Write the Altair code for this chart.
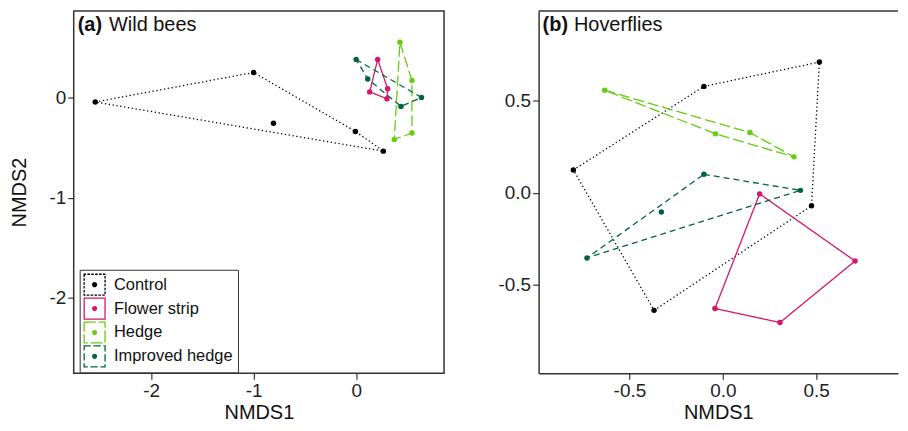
import altair as alt
import pandas as pd

FONT = "Liberation Sans"

# ---------------- data ----------------
groups = ["Control", "Flower strip", "Hedge", "Improved hedge"]
group_colors = ["#000000", "#D6156C", "#66CC11", "#00663A"]

# (a) Wild bees  (hull = order around the convex hull, -1 = interior point)
bees_group = ["Control"] * 5 + ["Flower strip"] * 4 + ["Hedge"] * 4 + ["Improved hedge"] * 4
bees_x = [-2.544, -1.000, -0.806, -0.007, 0.265,
          0.210, 0.307, 0.300, 0.132,
          0.427, 0.544, 0.544, 0.372,
          0.000, 0.637, 0.437, 0.113]
bees_y = [-0.043, 0.252, -0.256, -0.337, -0.534,
          0.382, 0.090, -0.010, 0.058,
          0.553, 0.171, -0.353, -0.417,
          0.382, 0.003, -0.087, 0.187]
bees_hull = [0, 1, -1, 2, 3,
             0, 1, 2, 3,
             0, 1, 2, 3,
             0, 1, 2, 3]

# (b) Hoverflies
hover_group = ["Control"] * 5 + ["Flower strip"] * 4 + ["Hedge"] * 4 + ["Improved hedge"] * 4
hover_x = [0.517, -0.101, -0.800, -0.368, 0.475,
           0.197, 0.708, 0.306, -0.042,
           -0.632, 0.145, 0.381, -0.039,
           -0.101, 0.416, -0.727, -0.329]
hover_y = [0.710, 0.578, 0.124, -0.639, -0.071,
           -0.006, -0.371, -0.705, -0.629,
           0.557, 0.327, 0.195, 0.320,
           0.100, 0.013, -0.354, -0.105]
hover_hull = [0, 1, 2, 3, 4,
              0, 1, 2, 3,
              0, 1, 2, 3,
              0, 1, 2, -1]

bees_ticks = [-2, -1, 0]
hover_ticks = [-0.5, 0.0, 0.5]
axis_title_x = "NMDS1"
axis_title_y = "NMDS2"
panel_tags = ["(a)", "(b)"]
panel_names = ["Wild bees", "Hoverflies"]

# ---------------- styles ----------------
dash_patterns = [[1.3, 2.6], [1, 0], [11, 4], [6, 4]]
line_widths = 1.3
LEG_SIDE = 21.0
PLOT_H = 364


def dashed_box(dash, gap, side=LEG_SIDE, thick=1.3, dot_r=2.6):
    """Legend symbol path: dashed square outline plus a centred dot (unit space [-1,1])."""
    u = side / 2.0
    t = thick / u / 2.0
    segs = []
    if gap <= 0:
        segs = [(0.0, 8.0)]
    else:
        s = 0.0
        while s < 8.0:
            segs.append((s, min(s + dash / u, 8.0)))
            s += (dash + gap) / u
    parts = []
    for a, b in segs:
        for e in range(4):
            lo, hi = max(a, 2 * e), min(b, 2 * e + 2)
            if hi <= lo:
                continue
            p, q = lo - 2 * e, hi - 2 * e
            if e == 0:
                x0, x1, y0, y1 = -1 + p - t, -1 + q + t, -1 - t, -1 + t
            elif e == 1:
                x0, x1, y0, y1 = 1 - t, 1 + t, -1 + p - t, -1 + q + t
            elif e == 2:
                x0, x1, y0, y1 = 1 - q - t, 1 - p + t, 1 - t, 1 + t
            else:
                x0, x1, y0, y1 = -1 - t, -1 + t, 1 - q - t, 1 - p + t
            x0, x1 = min(x0, x1), max(x0, x1)
            y0, y1 = min(y0, y1), max(y0, y1)
            parts.append(f"M{x0:.3f},{y0:.3f}H{x1:.3f}V{y1:.3f}H{x0:.3f}Z")
    r = dot_r / u
    parts.append(f"M{r:.3f},0A{r:.3f},{r:.3f} 0 1,1 {-r:.3f},0A{r:.3f},{r:.3f} 0 1,1 {r:.3f},0Z")
    return "".join(parts)


legend_shapes = [dashed_box(d[0], d[1]) for d in dash_patterns]
group_ids = list(range(len(groups)))


def build(gr, xs, ys, hull):
    pts = pd.DataFrame({"group": gr, "x": xs, "y": ys, "hull": hull})
    pts["gid"] = [groups.index(g) for g in gr]
    rows = []
    for g in groups:
        h = pts[(pts.group == g) & (pts.hull >= 0)].sort_values("hull")
        recs = h.to_dict("records")
        recs.append(dict(recs[0], hull=len(recs)))
        rows.extend(recs)
    return pts, pd.DataFrame(rows)


def minus_expr(fmt):
    return f"datum.value < 0 ? '-' + format(-datum.value, '{fmt}') : format(datum.value, '{fmt}')"


def legend_spec():
    return alt.Legend(
        title=None, orient="none", legendX=6, legendY=PLOT_H - 104,
        symbolSize=LEG_SIDE * LEG_SIDE, symbolStrokeWidth=0, symbolOpacity=1,
        labelFont=FONT, labelFontSize=16.5, labelColor="#111111",
        labelOffset=9, rowPadding=1, padding=4.5,
        strokeColor="#333333", fillColor="white", cornerRadius=0,
    )


def panel(gr, xs, ys, hull, xdom, ydom, ticks, fmt, w, h, idx, ytitle, with_legend, border_axes):
    pts, hulls = build(gr, xs, ys, hull)
    color_scale = alt.Scale(domain=group_ids, range=group_colors)
    dom_kw = dict(domain=True, domainColor="#333333", domainWidth=1.5) if border_axes else {}
    xenc = alt.X("x:Q", scale=alt.Scale(domain=xdom, nice=False, zero=False),
                 axis=alt.Axis(values=ticks, labelExpr=minus_expr(fmt), title=axis_title_x, **dom_kw))
    yenc = alt.Y("y:Q", scale=alt.Scale(domain=ydom, nice=False, zero=False),
                 axis=alt.Axis(values=ticks, labelExpr=minus_expr(fmt), title=ytitle, **dom_kw))

    lines = alt.Chart(hulls).mark_line(strokeWidth=line_widths, strokeCap="butt").encode(
        x=xenc, y=yenc,
        color=alt.Color("gid:N", scale=color_scale, legend=None),
        strokeDash=alt.StrokeDash("gid:N", scale=alt.Scale(domain=group_ids, range=dash_patterns), legend=None),
        order=alt.Order("hull:Q"),
    )
    points = alt.Chart(pts).mark_circle(size=30, opacity=1).encode(
        x="x:Q", y="y:Q",
        color=alt.Color("gid:N", scale=color_scale, legend=None),
    )
    layers = [lines, points]
    if with_legend:
        leg = alt.Chart(pts).transform_filter("false").mark_point(
            filled=True, opacity=1, size=LEG_SIDE * LEG_SIDE, strokeWidth=0
        ).encode(
            x="x:Q", y="y:Q",
            fill=alt.Fill("group:N", scale=alt.Scale(domain=groups, range=group_colors), legend=legend_spec()),
            shape=alt.Shape("group:N", scale=alt.Scale(domain=groups, range=legend_shapes), legend=legend_spec()),
        )
        layers.append(leg)
    lab = pd.DataFrame({"tag": [panel_tags[idx]], "name": [panel_names[idx]]})
    tag = alt.Chart(lab).mark_text(align="left", baseline="alphabetic", font=FONT, fontSize=20,
                                   fontWeight="bold", color="#111111").encode(
        x=alt.value(4), y=alt.value(20), text="tag:N")
    name = alt.Chart(lab).mark_text(align="left", baseline="alphabetic", font=FONT, fontSize=20,
                                    color="#111111").encode(
        x=alt.value(35.5), y=alt.value(20), text="name:N")
    layers += [tag, name]
    if border_axes:
        top = alt.Chart(lab).mark_rule(color="#333333", strokeWidth=1.5).encode(
            x=alt.value(0), x2=alt.value(w), y=alt.value(0))
        layers.append(top)
    ch = alt.layer(*layers).properties(width=w, height=h)
    if border_axes:
        ch = ch.properties(view=alt.ViewBackground(stroke="transparent"))
    return ch


pa = panel(bees_group, bees_x, bees_y, bees_hull, [-2.754, 0.857], [-2.754, 0.867],
           bees_ticks, "d", 372, PLOT_H, 0, axis_title_y, True, False)
pb = panel(hover_group, hover_x, hover_y, hover_hull, [-0.986, 0.938], [-0.981, 0.988],
           hover_ticks, ".1f", 361, PLOT_H, 1, None, False, True)

chart = alt.hconcat(pa, pb, spacing=52).resolve_scale(
    color="independent", strokeDash="independent", shape="independent", fill="independent",
    x="independent", y="independent"
).properties(
    padding=0, background="white"
).configure_view(
    stroke="#333333", strokeWidth=1.5
).configure_axis(
    grid=False, domain=False,
    labelFont=FONT, labelFontSize=19, labelColor="#222222", labelPadding=2,
    titleFont=FONT, titleFontSize=20, titleFontWeight="normal", titleColor="#111111",
    tickSize=6, tickColor="#333333", tickWidth=1.2,
).configure_axisX(titlePadding=2).configure_axisY(titlePadding=20)

chart.save("out.html", embed_options={"renderer": "svg", "actions": False})
